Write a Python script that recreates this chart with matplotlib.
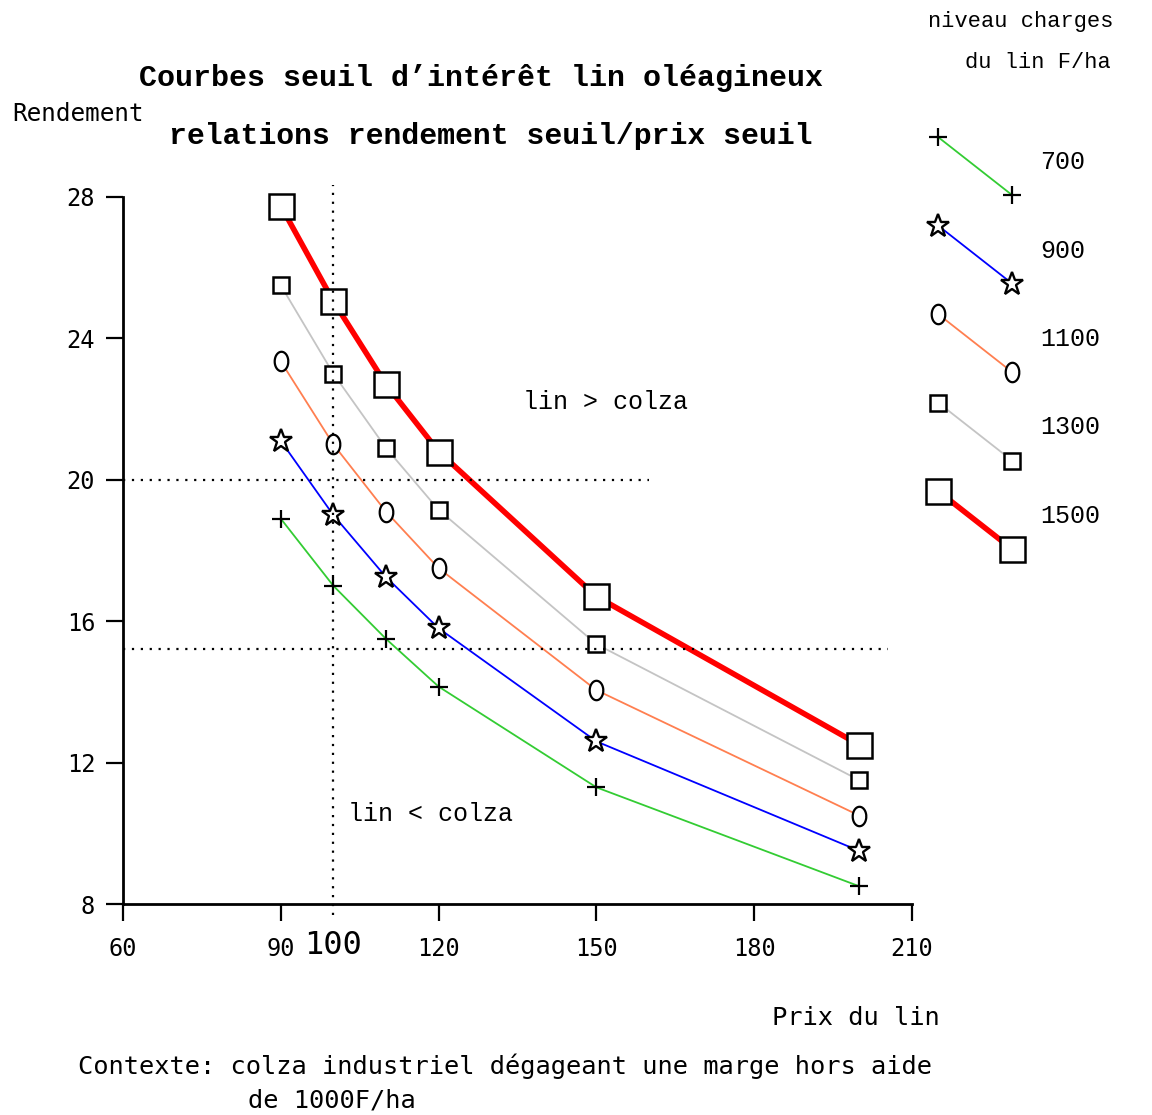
import matplotlib
matplotlib.use("Agg")
import matplotlib.pyplot as plt
import numpy as np
from matplotlib.path import Path

# data
prix = [90, 100, 110, 120, 150, 200]
niveaux = ["700", "900", "1100", "1300", "1500"]
rendement_700 = [18.9, 17.0, 15.5, 14.15, 11.3, 8.5]
rendement_900 = [21.1, 19.0, 17.25, 15.8, 12.6, 9.5]
rendement_1100 = [23.35, 21.0, 19.1, 17.5, 14.05, 10.5]
rendement_1300 = [25.5, 23.0, 20.9, 19.15, 15.35, 11.5]
rendement_1500 = [27.75, 25.05, 22.7, 20.8, 16.7, 12.5]
series = [rendement_700, rendement_900, rendement_1100, rendement_1300, rendement_1500]

seuil_prix = 100
seuil_rdt_haut = 20
seuil_rdt_bas = 15.2
xticks = [60, 90, 120, 150, 180, 210]
yticks = [8, 12, 16, 20, 24, 28]

# styles
oval = Path(np.column_stack([0.7 * np.cos(np.linspace(0, 2 * np.pi, 40)),
                             np.sin(np.linspace(0, 2 * np.pi, 40))]))
styles = [
    dict(color="#33cc33", lw=1.3, marker="+", ms=13, mew=1.6),
    dict(color="#0000ff", lw=1.3, marker="*", ms=17, mew=1.7),
    dict(color="#ff7f50", lw=1.3, marker=oval, ms=14, mew=1.6),
    dict(color="#c4c4c4", lw=1.3, marker="s", ms=11, mew=1.8),
    dict(color="#ff0000", lw=4.0, marker="s", ms=18, mew=1.8),
]

W, H = 1152, 1115
fig = plt.figure(figsize=(W / 100, H / 100), dpi=100)
ax = fig.add_axes([123 / W, 1 - 904 / H, (912 - 123) / W, (904 - 197) / H])

mono = "DejaVu Sans Mono"
courier = "Liberation Mono"

for vals, st in zip(series, styles):
    ax.plot(prix, vals, color=st["color"], lw=st["lw"], marker=st["marker"],
            ms=st["ms"], mew=st["mew"], mec="black", mfc="white", zorder=3, clip_on=False)

dots = dict(color="black", lw=1.6, linestyle=(0, (1, 3)), zorder=5, clip_on=False)
ax.plot([seuil_prix, seuil_prix], [7.7, 28.35], **dots)
ax.plot([60, 160], [seuil_rdt_haut, seuil_rdt_haut], **dots)
ax.plot([60, 205.5], [seuil_rdt_bas, seuil_rdt_bas], **dots)

ax.set_xlim(60, 210)
ax.set_ylim(8, 28)
ax.spines["top"].set_visible(False)
ax.spines["right"].set_visible(False)
for s in ["left", "bottom"]:
    ax.spines[s].set_linewidth(2)
ax.tick_params(direction="out", length=12, width=1.6, pad=8)
ax.set_xticks(xticks)
ax.set_yticks(yticks)
ax.set_xticklabels([str(t) for t in xticks], fontsize=17, family=mono)
ax.set_yticklabels([str(t) for t in yticks], fontsize=17, family=mono)
ax.tick_params(axis="x", pad=12)
ax.text(seuil_prix, -0.059, "100", transform=ax.get_xaxis_transform(),
        ha="center", va="center", fontsize=23, family=mono)

ax.text(151.8, 22.2, "lin > colza", ha="center", va="center", fontsize=18, family=courier)
ax.text(118.4, 10.55, "lin < colza", ha="center", va="center", fontsize=18, family=courier)

# titles and labels
fig.text(481 / W, 1 - 78 / H, "Courbes seuil d\u2019intérêt lin oléagineux",
         ha="center", va="center", fontsize=21.6, weight="bold", family=courier)
fig.text(491 / W, 1 - 136 / H, "relations rendement seuil/prix seuil",
         ha="center", va="center", fontsize=21.4, weight="bold", family=courier)
fig.text(12 / W, 1 - 114 / H, "Rendement", ha="left", va="center", fontsize=17.5, family=mono)
fig.text(940 / W, 1 - 1018 / H, "Prix du lin", ha="right", va="center", fontsize=18.3, family=mono)
fig.text(78 / W, 1 - 1066 / H, "Contexte: colza industriel dégageant une marge hors aide",
         ha="left", va="center", fontsize=18.3, family=mono)
fig.text(248 / W, 1 - 1101 / H, "de 1000F/ha", ha="left", va="center", fontsize=18.3, family=mono)

# legend on the right
fig.text(1021 / W, 1 - 22 / H, "niveau charges", ha="center", va="center",
         fontsize=15.8, family=courier)
fig.text(1038 / W, 1 - 62 / H, "du lin F/ha", ha="center", va="center",
         fontsize=15.8, family=courier)

lg = fig.add_axes([0, 0, 1, 1])
lg.set_xlim(0, W)
lg.set_ylim(H, 0)
lg.axis("off")
for i, (lab, st) in enumerate(zip(niveaux, styles)):
    y0 = 137 + i * 88.5
    lg.plot([938, 1012], [y0, y0 + 58], color=st["color"], lw=st["lw"],
            marker=st["marker"], ms=st["ms"], mew=st["mew"], mec="black", mfc="white")
    lg.text(1040, y0 + 25, lab, ha="left", va="center", fontsize=18, family=courier)

fig.savefig("out.png", dpi=100)
